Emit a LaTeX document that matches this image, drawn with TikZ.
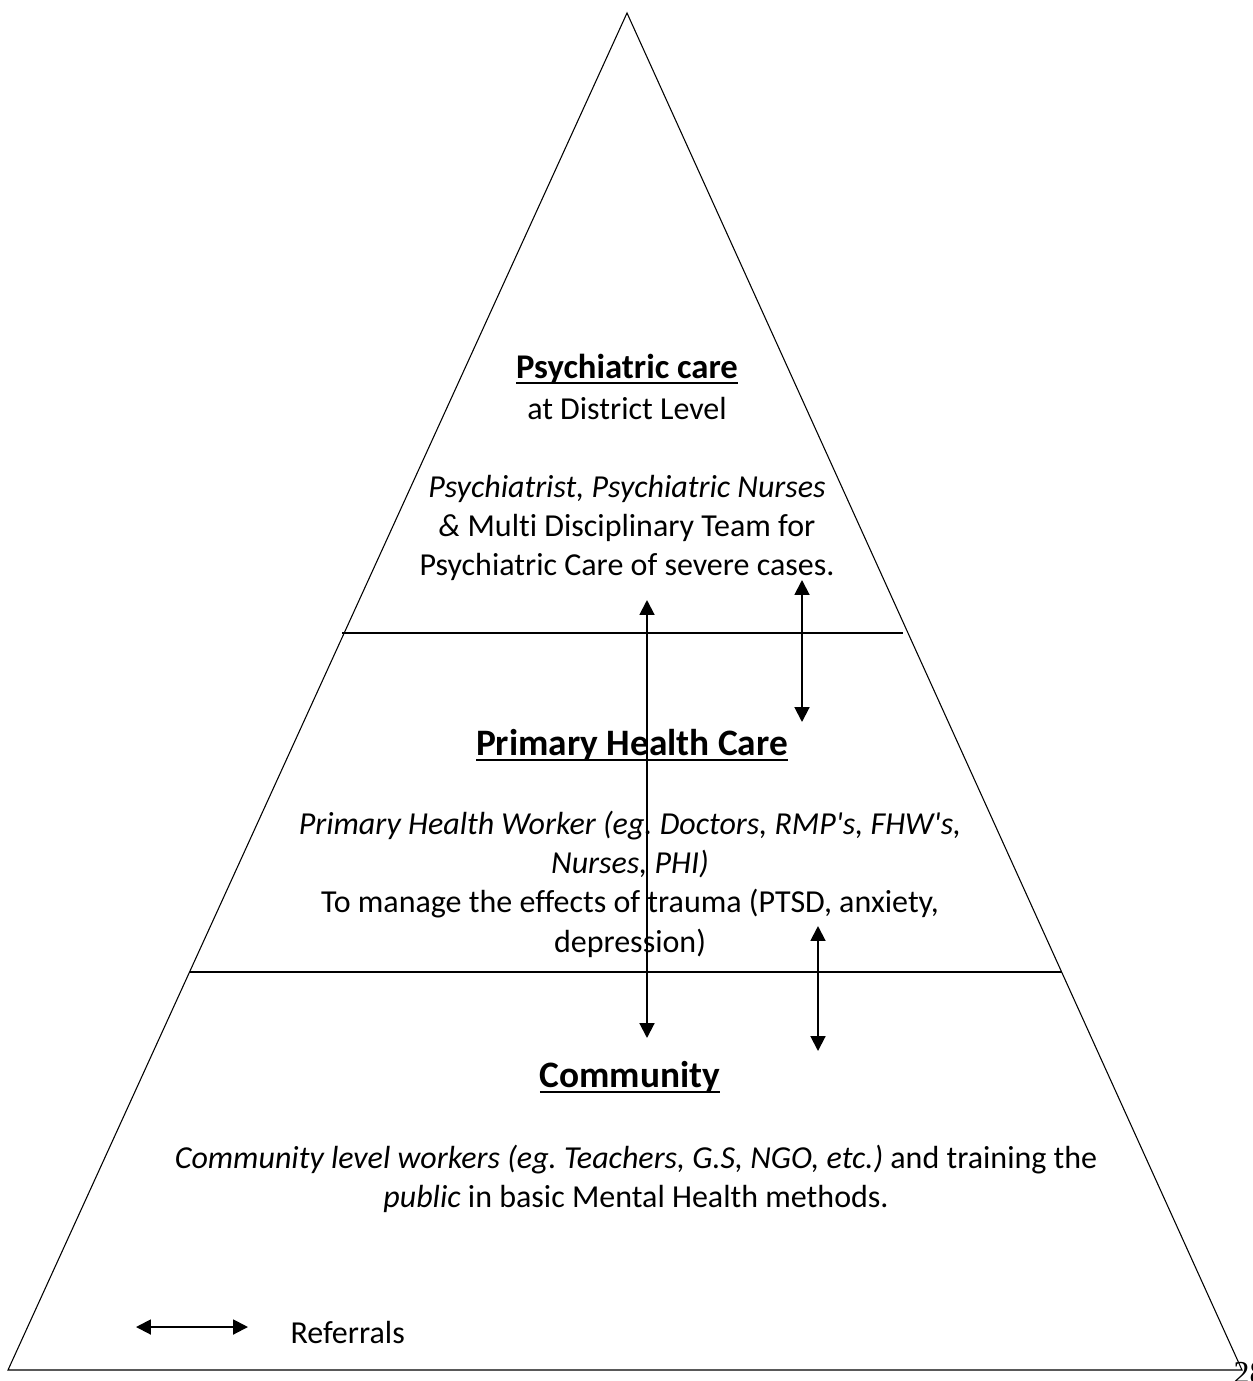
\documentclass[tikz,border=0pt]{standalone}
\usepackage{fontspec}
\setmainfont{Carlito}[Ligatures=CommonOff]
\newfontfamily\pagenofont{Liberation Serif}
\usetikzlibrary{positioning, arrows.meta}
\newcommand\headrule[1]{\setbox0\hbox{#1}\rlap{\rule[-2.4pt]{\wd0}{0.75pt}}\box0}
\frenchspacing

\begin{document}
\begin{tikzpicture}[
  x=0.375pt, y=-0.375pt,
  body/.style={align=center, inner sep=0pt, anchor=base, font=\fontsize{12}{14.6}\selectfont},
  heading/.style={inner sep=0pt, anchor=base, font=\fontsize{14}{17}\selectfont\bfseries},
  divider/.style={line width=0.75pt},
  referral/.style={{Triangle[length=5.6pt,width=5.6pt]}-{Triangle[length=5.6pt,width=5.6pt]}, line width=0.75pt}
]
\useasboundingbox (0,0) rectangle (1252,1381);

% pyramid and its three levels
\coordinate (apex)  at (627,13);
\coordinate (baseL) at (8,1370);
\coordinate (baseR) at (1242,1370);
\draw[line width=0.4pt] (apex) -- (baseR) -- (baseL) -- cycle;
\draw[divider] (342,633) -- (903,633);
\draw[divider] (190,972) -- (1062,972);

% district level (multi-line nodes sit on their last baseline)
\node[heading, font=\fontsize{13}{16}\selectfont\bfseries] (psychhead) at (627,378) {\headrule{Psychiatric care}};
\node[body] (psychlevel) at (627,419) {at District Level};
\node[body] (psychtext) at (627,575) {\textit{Psychiatrist, Psychiatric Nurses}\\ \textit{\&} Multi Disciplinary Team for\\ Psychiatric Care of severe cases.};

% primary level
\node[heading] (phchead) at (632,755) {\headrule{Primary Health Care}};
\node[body, font=\fontsize{12}{14.7}\selectfont] (phctext) at (630,952) {\textit{Primary Health Worker (eg. Doctors, RMP\textquotesingle s, FHW\textquotesingle s,}\\ \textit{Nurses, PHI)}\\ To manage the effects of trauma (PTSD, anxiety,\\ depression)};

% community level
\node[heading] (commhead) at (630,1087) {\headrule{Community}};
\node[body] (commtext) at (636,1207) {\textit{Community level workers (eg. Teachers, G.S, NGO, etc.)} and training the\\ \textit{public} in basic Mental Health methods.};

% referrals
\coordinate (longtop) at (647,600);
\coordinate (longbot) at (647,1038);
\coordinate (uptop)   at (802,580);
\coordinate (upbot)   at (802,722);
\coordinate (lowtop)  at (818,926);
\coordinate (lowbot)  at (818,1051);
\draw[referral] (longtop) -- (longbot);
\draw[referral] (uptop) -- (upbot);
\draw[referral] (lowtop) -- (lowbot);

% legend
\coordinate (keyL) at (136,1327);
\coordinate (keyR) at (248,1327);
\draw[referral] (keyL) -- (keyR);
\node[body, anchor=base west] (keytext) at (290,1343) {Referrals};

\node[inner sep=0pt, anchor=base west, font=\pagenofont\fontsize{12}{14}\selectfont] (pageno) at (1233,1383) {28};
\end{tikzpicture}
\end{document}
